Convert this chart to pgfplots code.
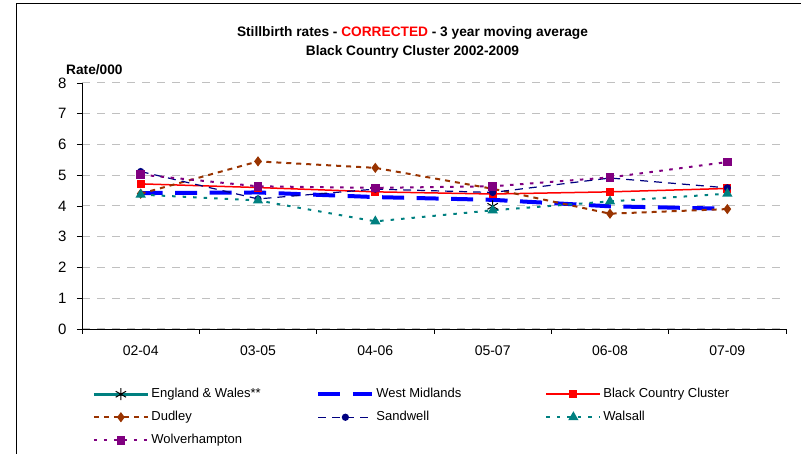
\documentclass[border=0pt]{standalone}
\usepackage{pgfplots}
\usepackage{pgfplotstable}
\pgfplotsset{compat=1.18}
\usepackage{fontspec}
\setmainfont{Liberation Sans}

\definecolor{wmblue}{RGB}{0,0,255}
\definecolor{bcred}{RGB}{255,0,0}
\definecolor{dudbrown}{RGB}{153,51,0}
\definecolor{sandnavy}{RGB}{0,0,128}
\definecolor{walteal}{RGB}{0,128,128}
\definecolor{wolfpurple}{RGB}{128,0,128}
\definecolor{gridgray}{RGB}{192,192,192}

% 3 year moving averages, periods 02-04 ... 07-09 at x = 0..5
\pgfplotstableread{
x  wm    bcc   dudley sandwell walsall wolves
0  4.42  4.72  4.40   5.12     4.37    5.02
1  4.44  4.60  5.45   4.23     4.18    4.64
2  4.29  4.46  5.24   4.55     3.50    4.59
3  4.20  4.39  4.56   4.44     3.86    4.64
4  3.99  4.46  3.75   4.91     4.15    4.93
5  3.91  4.57  3.90   4.59     4.40    5.43
}\ratesdata

\begin{document}
\begin{tikzpicture}[x=1pt,y=1pt]
\begin{axis}[
    at={(82pt,125pt)}, anchor=south west,
    scale only axis, width=704pt, height=246pt,
    xmin=-0.5, xmax=5.5, ymin=0, ymax=8,
    axis x line*=bottom, axis y line*=left,
    axis line style={line width=0.8pt, black},
    xtick={0,...,5},
    xticklabels={02-04,03-05,04-06,05-07,06-08,07-09},
    major x tick style={draw=none},
    minor xtick={-0.5,0.5,...,5.5},
    ytick={0,...,8},
    tick align=outside,
    major tick length=5pt, minor tick length=5pt,
    tick style={black, line width=0.8pt},
    ticklabel style={font=\fontsize{14}{16}\selectfont},
    xticklabel style={yshift=-8pt},
    yticklabel style={xshift=-7pt, font=\fontsize{15}{17}\selectfont},
    /pgf/number format/assume math mode=true,
    ymajorgrids,
    major grid style={gridgray, line width=1pt, dash pattern=on 8pt off 7pt},
    clip=false,
    legend columns=3,
    legend cell align=left,
    legend style={at={(0.0145,-0.238)}, anchor=north west, draw=none, fill=none,
        inner sep=0pt, row sep=10pt, column sep=2pt,
        nodes={inner sep=0pt, text height=10pt, text depth=3pt,
               font=\fontsize{13}{15}\selectfont}},
    legend image code/.code={
        \draw[mark repeat=2, mark phase=2, #1]
            plot coordinates {(0pt,0pt) (27pt,0pt) (54pt,0pt)};},
]
\addplot[walteal, line width=3pt, mark=asterisk, mark size=6pt,
    mark options={black, line width=1pt, solid}] coordinates {(3,3.99)};
\addlegendentry{\makebox[163pt][l]{England \& Wales**}}

\addplot[wmblue, line width=4pt, dash pattern=on 22pt off 12.5pt]
    table[x=x, y=wm] {\ratesdata};
\addlegendentry{\makebox[167pt][l]{West Midlands}}

\addplot[bcred, line width=1.5pt, mark=square*, mark size=3.3pt]
    table[x=x, y=bcc] {\ratesdata};
\addlegendentry{\makebox[163pt][l]{Black Country Cluster}}

\addplot[dudbrown, line width=2pt, dash pattern=on 5pt off 5pt,
    mark=diamond*, mark size=3.5pt, mark options={solid}]
    table[x=x, y=dudley] {\ratesdata};
\addlegendentry{\makebox[163pt][l]{Dudley}}

\addplot[sandnavy, line width=1.2pt, dash pattern=on 8pt off 6pt,
    mark=*, mark size=3pt, mark options={solid}]
    table[x=x, y=sandwell] {\ratesdata};
\addlegendentry{\makebox[167pt][l]{Sandwell}}

\addplot[walteal, line width=2pt, dash pattern=on 3.5pt off 7pt,
    mark=triangle*, mark size=4pt, mark options={solid}]
    table[x=x, y=walsall] {\ratesdata};
\addlegendentry{\makebox[163pt][l]{Walsall}}

\addplot[wolfpurple, line width=2pt, dash pattern=on 3.5pt off 6.5pt,
    mark=square*, mark size=3.3pt, mark options={solid}]
    table[x=x, y=wolves] {\ratesdata};
\addlegendentry{\makebox[163pt][l]{Wolverhampton}}
\end{axis}

\node[font=\bfseries\fontsize{13.7}{16}\selectfont] at (412.5,421.3)
  {Stillbirth rates - \textcolor{bcred}{CORRECTED} - 3 year moving average};
\node[font=\bfseries\fontsize{13.7}{16}\selectfont] at (412.5,402.3)
  {Black Country Cluster 2002-2009};
\node[anchor=west, inner sep=0pt, font=\bfseries\fontsize{13.7}{16}\selectfont] at (66,384) {Rate/000};
\draw[line width=1pt] (16,0) -- (16,450) -- (801,450);

\pgfresetboundingbox
\useasboundingbox (0,0) rectangle (801,454);
\end{tikzpicture}
\end{document}
